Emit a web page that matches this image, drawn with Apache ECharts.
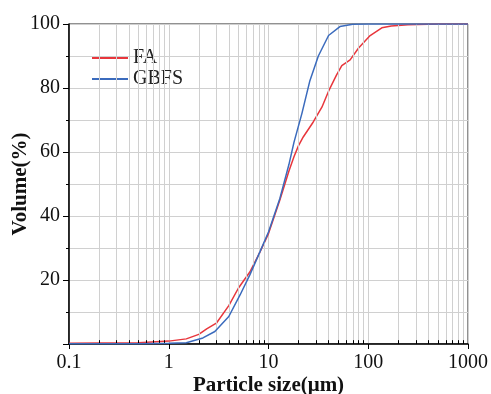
<!DOCTYPE html>
<html>
<head>
<meta charset="utf-8">
<script src="https://cdn.jsdelivr.net/npm/echarts@6/dist/echarts.min.js"></script>
<style>html,body{margin:0;padding:0;background:#fff}#c{width:491px;height:394px}</style>
</head>
<body>
<div id="c"></div>
<script>
// ---- data ----
const faX   = [0.1, 0.2, 0.5, 1, 1.5, 2, 2.4, 3, 4, 5, 6.5, 8, 10, 13, 16, 18, 20, 22.3, 28, 34.3, 40, 48, 54.3, 65.8, 80, 104.5, 136.8, 170, 250, 500, 1000];
const faY   = [0.2, 0.3, 0.4, 0.9, 1.6, 3.0, 4.7, 6.5, 12, 17.5, 22.5, 28, 34.5, 45, 54, 58.5, 62, 64.7, 69.3, 74, 79, 84, 87, 88.8, 92.5, 96.4, 98.8, 99.4, 99.8, 100, 100];
const gbfsX = [0.1, 0.5, 1, 1.5, 2.2, 2.9, 4, 5.2, 6.5, 8, 10, 13, 16, 18, 21.6, 26, 31.6, 40, 52, 70, 100, 1000];
const gbfsY = [0.1, 0.1, 0.2, 0.4, 1.9, 3.9, 8.6, 15.4, 21.6, 28, 35, 45.5, 56, 63, 72, 82.3, 90, 96.4, 99.2, 99.9, 100, 100];
const seriesNames = ['FA', 'GBFS'];
const xTickLabels = ['0.1', '1', '10', '100', '1000'];
const xMinorGrid = [0.2,0.3,0.4,0.5,0.6,0.7,0.8,0.9, 2,3,4,5,6,7,8,9, 20,30,40,50,60,70,80,90, 200,300,400,500,600,700,800,900];

const FONT = '"Liberation Serif", "Times New Roman", serif';
const pair = (xs, ys) => xs.map((x, i) => [x, ys[i]]);
const COLORS = ['#e8363c', '#3b6bbd'];

const chart = echarts.init(document.getElementById('c'), null, {renderer: 'canvas'});
chart.setOption({
  animation: false,
  backgroundColor: '#fff',
  grid: {left: 69, right: 23, top: 24, bottom: 50, outerBoundsMode: 'none', containLabel: false,
         show: true, borderColor: '#222', borderWidth: 1, backgroundColor: 'transparent'},
  legend: {
    data: seriesNames.map((n, i) => ({name: n, icon: 'path://M0,0 L36,0 L36,2 L0,2 Z', itemStyle: {color: COLORS[i], borderWidth: 0}})),
    left: 92, top: 48, orient: 'vertical', padding: 0,
    itemWidth: 36, itemHeight: 2, itemGap: 1,
    textStyle: {fontFamily: FONT, fontSize: 20, color: '#222', lineHeight: 20, padding: [0,0,0,0]}
  },
  xAxis: {
    type: 'log', logBase: 10, min: 0.1, max: 1000,
    name: 'Particle size(μm)', nameLocation: 'middle', nameGap: 31, nameMoveOverlap: false,
    nameTextStyle: {fontFamily: FONT, fontSize: 21, fontWeight: 'bold', color: '#111'},
    axisLine: {lineStyle: {color: '#000', width: 1.5}},
    axisTick: {length: 5, lineStyle: {color: '#000'}},
    axisLabel: {fontFamily: FONT, fontSize: 20, color: '#111', margin: 9,
      formatter: v => xTickLabels.find(l => Math.abs(Math.log10(+l) - Math.log10(v)) < 1e-6) || ''},
    splitLine: {show: true, lineStyle: {color: '#d0d0d0', width: 1}}
  },
  yAxis: {
    type: 'value', min: 0, max: 100, interval: 20,
    name: 'Volume(%)', nameLocation: 'middle', nameGap: 38, nameMoveOverlap: false,
    nameTextStyle: {fontFamily: FONT, fontSize: 21, fontWeight: 'bold', color: '#111'},
    axisLine: {show: true, lineStyle: {color: '#000', width: 1.5}},
    axisTick: {show: true, length: 6, lineStyle: {color: '#000'}},
    minorTick: {show: true, splitNumber: 2, length: 3, lineStyle: {color: '#000'}},
    axisLabel: {fontFamily: FONT, fontSize: 20, color: '#111', margin: 9, showMinLabel: false},
    splitLine: {show: true, lineStyle: {color: '#d0d0d0', width: 1}},
    minorSplitLine: {show: true, lineStyle: {color: '#d0d0d0', width: 1}}
  },
  series: [
    {
      type: 'line', data: [], z: 1, silent: true,
      markLine: {
        silent: true, symbol: 'none', label: {show: false}, animation: false,
        lineStyle: {color: '#d0d0d0', width: 1, type: 'solid'},
        data: xMinorGrid.map(v => ({xAxis: v}))
      }
    },
    {
      type: 'line', data: [], z: 3, silent: true,
      markLine: {
        silent: true, symbol: 'none', label: {show: false}, animation: false,
        lineStyle: {color: '#000', width: 1, type: 'solid'},
        data: xMinorGrid.map(v => [{coord: [v, 0]}, {coord: [v, 1.2]}])
      }
    },
    {
      name: seriesNames[0], type: 'line', data: pair(faX, faY), showSymbol: false, symbol: 'none', z: 4,
      lineStyle: {color: COLORS[0], width: 1.5}, itemStyle: {color: COLORS[0]}
    },
    {
      name: seriesNames[1], type: 'line', data: pair(gbfsX, gbfsY), showSymbol: false, symbol: 'none', z: 5,
      lineStyle: {color: COLORS[1], width: 1.5}, itemStyle: {color: COLORS[1]}
    }
  ]
});
</script>
</body>
</html>
